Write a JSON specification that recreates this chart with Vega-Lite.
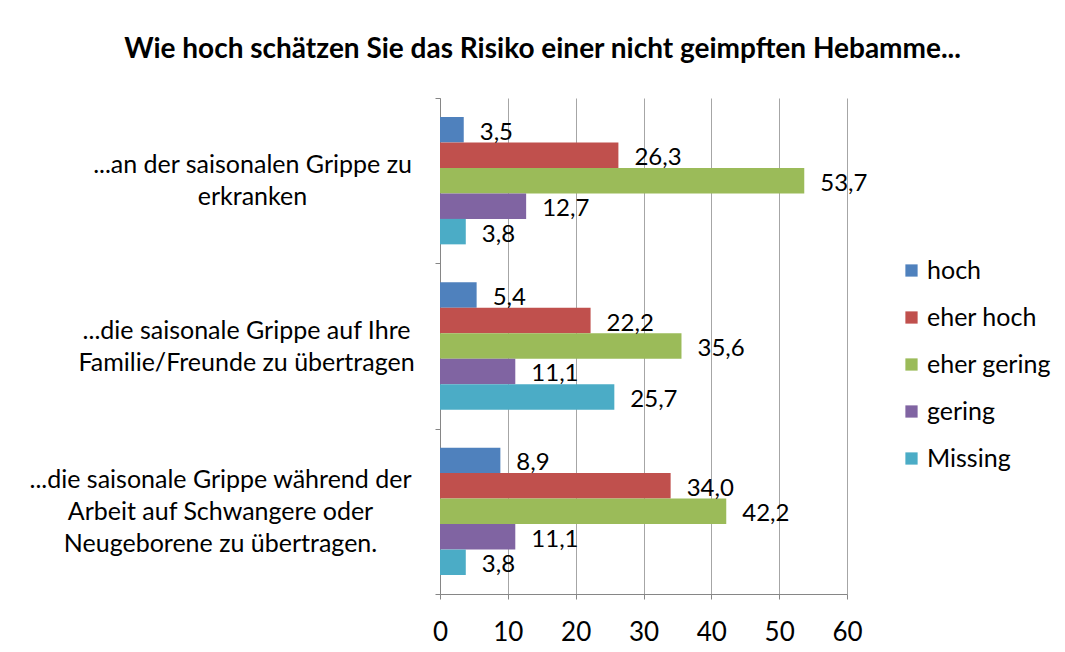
{
  "$schema": "https://vega.github.io/schema/vega-lite/v6.json",
  "autosize": {"type": "none"},
  "width": 407,
  "height": 496,
  "padding": {"left": 440, "top": 98, "right": 218, "bottom": 58},
  "background": "white",
  "title": {
    "text": "Wie hoch schätzen Sie das Risiko einer nicht geimpften Hebamme...",
    "anchor": "middle",
    "frame": "group",
    "dx": -101,
    "offset": 22,
    "font": "Lato",
    "fontSize": 28,
    "fontWeight": "bold",
    "color": "#000000"
  },
  "config": {
    "locale": {"number": {"decimal": ",", "thousands": ".", "grouping": [3], "currency": ["", " €"]}},
    "view": {"stroke": null},
    "font": "Lato"
  },
  "data": {
    "values": [
      {"frage": "...an der saisonalen Grippe zu erkranken", "risiko": "hoch", "wert": 3.5},
      {"frage": "...an der saisonalen Grippe zu erkranken", "risiko": "eher hoch", "wert": 26.3},
      {"frage": "...an der saisonalen Grippe zu erkranken", "risiko": "eher gering", "wert": 53.7},
      {"frage": "...an der saisonalen Grippe zu erkranken", "risiko": "gering", "wert": 12.7},
      {"frage": "...an der saisonalen Grippe zu erkranken", "risiko": "Missing", "wert": 3.8},
      {"frage": "...die saisonale Grippe auf Ihre Familie/Freunde zu übertragen", "risiko": "hoch", "wert": 5.4},
      {"frage": "...die saisonale Grippe auf Ihre Familie/Freunde zu übertragen", "risiko": "eher hoch", "wert": 22.2},
      {"frage": "...die saisonale Grippe auf Ihre Familie/Freunde zu übertragen", "risiko": "eher gering", "wert": 35.6},
      {"frage": "...die saisonale Grippe auf Ihre Familie/Freunde zu übertragen", "risiko": "gering", "wert": 11.1},
      {"frage": "...die saisonale Grippe auf Ihre Familie/Freunde zu übertragen", "risiko": "Missing", "wert": 25.7},
      {"frage": "...die saisonale Grippe während der Arbeit auf Schwangere oder Neugeborene zu übertragen.", "risiko": "hoch", "wert": 8.9},
      {"frage": "...die saisonale Grippe während der Arbeit auf Schwangere oder Neugeborene zu übertragen.", "risiko": "eher hoch", "wert": 34.0},
      {"frage": "...die saisonale Grippe während der Arbeit auf Schwangere oder Neugeborene zu übertragen.", "risiko": "eher gering", "wert": 42.2},
      {"frage": "...die saisonale Grippe während der Arbeit auf Schwangere oder Neugeborene zu übertragen.", "risiko": "gering", "wert": 11.1},
      {"frage": "...die saisonale Grippe während der Arbeit auf Schwangere oder Neugeborene zu übertragen.", "risiko": "Missing", "wert": 3.8}
    ]
  },
  "encoding": {
    "y": {
      "field": "frage",
      "type": "nominal",
      "sort": null,
      "title": null,
      "scale": {"paddingInner": 0, "paddingOuter": 0},
      "axis": {
        "tickBand": "extent",
        "tickSize": 5,
        "tickColor": "#868686",
        "domainColor": "#868686",
        "labelFontSize": 25,
        "labelColor": "#000000",
        "labelLimit": 500,
        "labelLineHeight": 32,
        "labelAlign": "center",
        "labelPadding": {
          "condition": [
            {"test": "datum.value == '...an der saisonalen Grippe zu erkranken'", "value": 183},
            {"test": "datum.value == '...die saisonale Grippe auf Ihre Familie/Freunde zu übertragen'", "value": 189}
          ],
          "value": 215
        },
        "labelOffset": {
          "condition": [
            {"test": "datum.value == '...an der saisonalen Grippe zu erkranken'", "value": -16},
            {"test": "datum.value == '...die saisonale Grippe auf Ihre Familie/Freunde zu übertragen'", "value": -16}
          ],
          "value": -32
        },
        "labelExpr": "datum.value == '...an der saisonalen Grippe zu erkranken' ? ['...an der saisonalen Grippe zu', 'erkranken'] : (datum.value == '...die saisonale Grippe auf Ihre Familie/Freunde zu übertragen' ? ['...die saisonale Grippe auf Ihre', 'Familie/Freunde zu übertragen'] : (datum.value == '...die saisonale Grippe während der Arbeit auf Schwangere oder Neugeborene zu übertragen.' ? ['...die saisonale Grippe während der', 'Arbeit auf Schwangere oder', 'Neugeborene zu übertragen.'] : ''))"
      }
    },
    "yOffset": {
      "field": "risiko",
      "type": "nominal",
      "sort": ["hoch", "eher hoch", "eher gering", "gering", "Missing"],
      "scale": {"paddingInner": 0, "paddingOuter": 0.745}
    },
    "x": {
      "field": "wert",
      "type": "quantitative",
      "title": null,
      "scale": {"domain": [0, 60], "nice": false},
      "axis": {
        "values": [0, 10, 20, 30, 40, 50, 60],
        "grid": true,
        "gridColor": "#a6a6a6",
        "tickColor": "#868686",
        "domainColor": "#868686",
        "tickSize": 5,
        "labelFontSize": 26,
        "labelColor": "#000000",
        "labelPadding": 20,
        "labelFlush": false
      }
    }
  },
  "layer": [
    {
      "mark": {"type": "bar"},
      "encoding": {
        "color": {
          "field": "risiko",
          "type": "nominal",
          "sort": ["hoch", "eher hoch", "eher gering", "gering", "Missing"],
          "scale": {
            "domain": ["hoch", "eher hoch", "eher gering", "gering", "Missing"],
            "range": ["#4F81BD", "#C0504D", "#9BBB59", "#8064A2", "#4BACC6"]
          },
          "legend": {
            "title": null,
            "orient": "none",
            "legendX": 459,
            "legendY": 160,
            "symbolType": "square",
            "symbolSize": 150,
            "symbolStrokeWidth": 0,
            "labelFontSize": 25,
            "labelColor": "#000000",
            "labelOffset": 3,
            "rowPadding": 21
          }
        }
      }
    },
    {
      "mark": {"type": "text", "align": "left", "baseline": "middle", "dx": 16, "dy": 3, "fontSize": 24, "color": "#000000"},
      "encoding": {
        "text": {"field": "wert", "type": "quantitative", "format": ".1f"}
      }
    }
  ]
}
